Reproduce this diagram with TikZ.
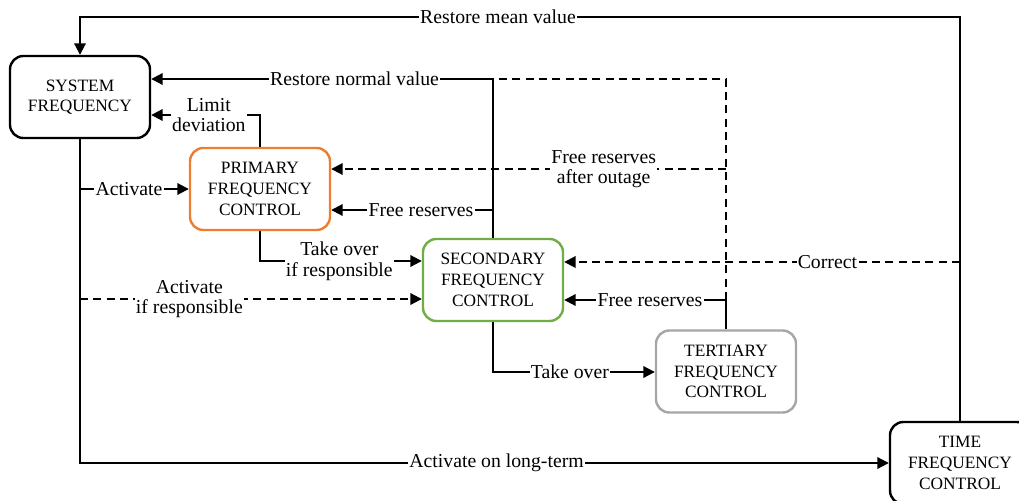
\documentclass[tikz,border=0pt]{standalone}
\usepackage{fontspec}
\setmainfont{Liberation Serif}
\usetikzlibrary{arrows.meta}
\definecolor{primc}{HTML}{ED7D31}
\definecolor{secc}{HTML}{70AD47}
\definecolor{terc}{HTML}{A6A6A6}
\begin{document}
\begin{tikzpicture}[x=0.75pt,y=-0.75pt,
  box/.style={draw, line width=1.8pt, rounded corners=10pt, minimum width=105pt, minimum height=61.5pt,
    align=center, inner sep=0pt, font=\fontsize{13}{15.5}\selectfont},
  conn/.style={line width=1.5pt},
  arr/.style={-{Triangle[length=8.5pt,width=8.5pt]}},
  dsh/.style={dash pattern=on 6pt off 4pt},
  lbl/.style={fill=white, inner sep=1pt, align=center, font=\fontsize{14.8}{15.5}\selectfont}]
\useasboundingbox (0,0) rectangle (1019,500);
\clip (0,0) rectangle (1019,500);

\node[box] (sys) at (80,97) {SYSTEM\\FREQUENCY};
\node[box, draw=primc] (pri) at (260,189) {PRIMARY\\FREQUENCY\\CONTROL};
\node[box, draw=secc] (sec) at (493,280) {SECONDARY\\FREQUENCY\\CONTROL};
\node[box, draw=terc] (ter) at (726,371.5) {TERTIARY\\FREQUENCY\\CONTROL};
\node[box] (tim) at (960,463) {TIME\\FREQUENCY\\CONTROL};

% Restore mean value
\draw[conn,arr] (tim.north) -- (tim.north |- 0,17)
  -- node[lbl,pos=0.525]{Restore mean value} (sys.north |- 0,17) -- (sys.north);
% Restore normal value
\draw[conn,arr] (sec.north) -- (sec.north |- 0,79)
  -- node[lbl,pos=0.405]{Restore normal value} (sys.east |- 0,79);
% Free reserves secondary -> primary
\draw[conn,arr] (sec.north |- 0,210) -- node[lbl,pos=0.445]{Free reserves} (pri.east |- 0,210);
% Limit deviation
\draw[conn,arr] (pri.north) -- (pri.north |- 0,115)
  -- node[lbl,pos=0.47]{Limit\\deviation} (sys.east |- 0,115);
% Activate on long-term
\draw[conn,arr] (sys.south) -- (sys.south |- 0,463)
  -- node[lbl,pos=0.515]{Activate on long-term} (tim.west |- 0,463);
% Activate
\draw[conn,arr] (sys.south |- 0,189) -- node[lbl,pos=0.45]{Activate} (pri.west |- 0,189);
% Activate if responsible
\draw[conn,dsh,arr] (sys.south |- 0,299) -- node[lbl,pos=0.32]{Activate\\if responsible} (sec.west |- 0,299);
% Take over if responsible
\draw[conn,arr] (pri.south) -- (pri.south |- 0,261)
  -- node[lbl,pos=0.49]{Take over\\if responsible} (sec.west |- 0,261);
% Take over
\draw[conn,arr] (sec.south) -- (sec.south |- 0,372)
  -- node[lbl,pos=0.475]{Take over} (ter.west |- 0,372);
% Free reserves tertiary -> secondary
\draw[conn,arr] (ter.north) -- (ter.north |- 0,300)
  -- node[lbl,pos=0.47]{Free reserves} (sec.east |- 0,300);
% dashed tertiary -> restore normal value
\draw[conn,dsh] (ter.north |- 0,300) -- (ter.north |- 0,79) -- (sec.north |- 0,79);
% Free reserves after outage
\draw[conn,dsh,arr] (ter.north |- 0,169)
  -- node[lbl,pos=0.31]{Free reserves\\after outage} (pri.east |- 0,169);
% Correct
\draw[conn,dsh,arr] (tim.north |- 0,262) -- node[lbl,pos=0.335]{Correct} (sec.east |- 0,262);
\end{tikzpicture}
\end{document}
